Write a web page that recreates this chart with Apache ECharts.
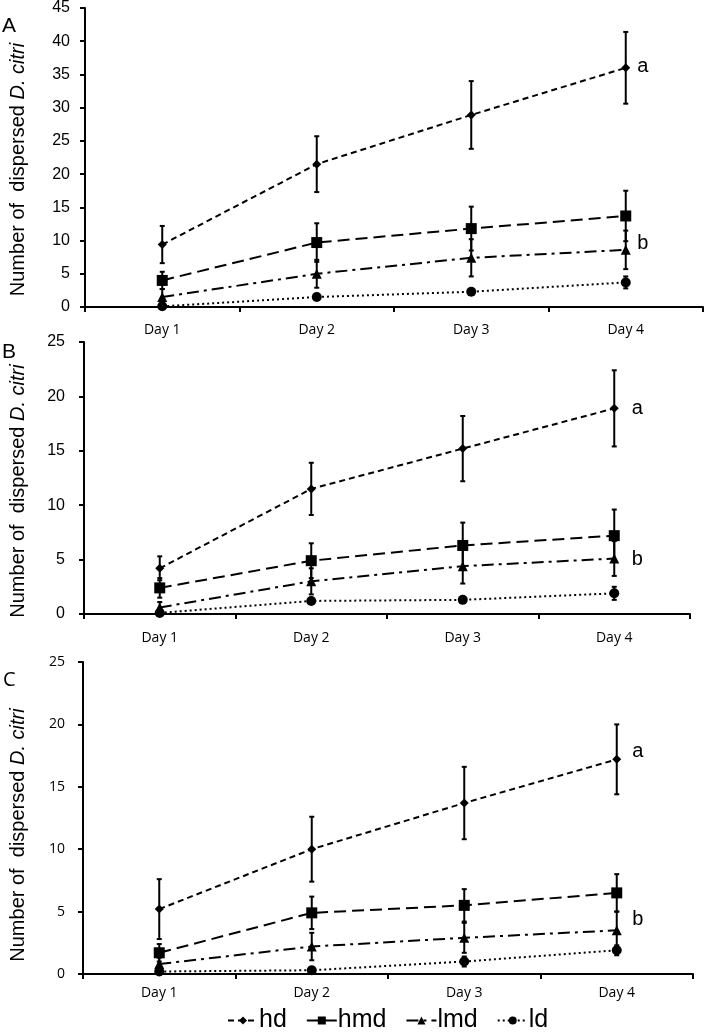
<!DOCTYPE html>
<html>
<head>
<meta charset="utf-8">
<script src="https://cdn.jsdelivr.net/npm/echarts@6/dist/echarts.min.js"></script>
<style>html,body{margin:0;padding:0;background:#fff}#c{width:704px;height:1036px}</style>
</head>
<body>
<div id="c"></div>
<script>
const days = ['Day 1', 'Day 2', 'Day 3', 'Day 4'];
const seriesNames = ['hd', 'hmd', 'lmd', 'ld'];
const yTicksA = [0, 45, 5];
const yTicksBC = [0, 25, 5];

// Panel A
const A_hd = [9.4, 21.5, 28.9, 36.0];
const A_hd_err = [2.8, 4.2, 5.1, 5.4];
const A_hmd = [4.0, 9.7, 11.8, 13.7];
const A_hmd_err = [1.3, 2.9, 3.3, 3.8];
const A_lmd = [1.5, 5.0, 7.4, 8.6];
const A_lmd_err = [1.2, 2.1, 2.8, 2.9];
const A_ld = [0.1, 1.5, 2.3, 3.7];
const A_ld_err = [0.1, 0.2, 0.3, 0.9];
const A_letters = [['a', 36.2], ['b', 9.5]];

// Panel B
const B_hd = [4.2, 11.5, 15.2, 18.9];
const B_hd_err = [1.1, 2.4, 3.0, 3.5];
const B_hmd = [2.4, 4.9, 6.3, 7.2];
const B_hmd_err = [0.9, 1.6, 2.1, 2.4];
const B_lmd = [0.6, 3.0, 4.4, 5.1];
const B_lmd_err = [0.5, 1.2, 1.6, 1.6];
const B_ld = [0.1, 1.2, 1.3, 1.9];
const B_ld_err = [0.1, 0.2, 0.2, 0.6];
const B_letters = [['a', 18.9], ['b', 5.0]];

// Panel C
const C_hd = [5.2, 10.0, 13.7, 17.2];
const C_hd_err = [2.4, 2.6, 2.9, 2.8];
const C_hmd = [1.7, 4.9, 5.5, 6.5];
const C_hmd_err = [0.7, 1.3, 1.3, 1.5];
const C_lmd = [0.8, 2.2, 2.9, 3.5];
const C_lmd_err = [0.5, 1.1, 1.2, 1.5];
const C_ld = [0.2, 0.3, 1.0, 1.9];
const C_ld_err = [0.1, 0.2, 0.4, 0.4];
const C_letters = [['a', 17.85], ['b', 4.4]];

const panels = [
  {label: 'A', data: [A_hd, A_hmd, A_lmd, A_ld], err: [A_hd_err, A_hmd_err, A_lmd_err, A_ld_err], letters: A_letters, ticks: yTicksA,
   grid: {left: 83, top: 6, width: 620, height: 301}, yFont: 16, yFam: 'Liberation Sans', yMargin: 15, xMargin: 16, nameGap: 57, nameShift: 24, letterOff: 17,
   lab: {x: 2, y: 16, size: 21, fam: 'Liberation Sans'}},
  {label: 'B', data: [B_hd, B_hmd, B_lmd, B_ld], err: [B_hd_err, B_hmd_err, B_lmd_err, B_ld_err], letters: B_letters, ticks: yTicksBC,
   grid: {left: 82, top: 342, width: 608, height: 272}, yFont: 16, yFam: 'Liberation Sans', yMargin: 19, xMargin: 17, nameGap: 56, nameShift: 26, letterOff: 23,
   lab: {x: 2, y: 342, size: 21, fam: 'Liberation Sans'}},
  {label: 'C', data: [C_hd, C_hmd, C_lmd, C_ld], err: [C_hd_err, C_hmd_err, C_lmd_err, C_ld_err], letters: C_letters, ticks: yTicksBC,
   grid: {left: 79, top: 662, width: 614, height: 312}, yFont: 14, yFam: 'Open Sans', yMargin: 18, xMargin: 12, nameGap: 55, nameShift: 34, letterOff: 21,
   lab: {x: 3, y: 670, size: 20, fam: 'Open Sans'}}
];

const styles = {
  hd:  {type: [6, 4], symbol: 'diamond', size: 9},
  hmd: {type: [12, 6], symbol: 'rect', size: 11},
  lmd: {type: [12, 5, 3, 5], symbol: 'triangle', size: 10},
  ld:  {type: [2, 3], symbol: 'circle', size: 10}
};

const grids = [], xAxes = [], yAxes = [], series = [], graphics = [];

panels.forEach((p, pi) => {
  grids.push(Object.assign({containLabel: false}, p.grid));
  xAxes.push({
    type: 'category', gridIndex: pi, data: days, boundaryGap: true,
    axisLine: {lineStyle: {color: '#000', width: 2}},
    axisTick: {show: true, alignWithLabel: false, length: 5, lineStyle: {color: '#000', width: 2}},
    axisLabel: {color: '#000', fontSize: 14, fontFamily: 'Open Sans', margin: p.xMargin},
    splitLine: {show: false}
  });
  yAxes.push({
    type: 'value', gridIndex: pi, min: p.ticks[0], max: p.ticks[1], interval: p.ticks[2],
    axisLine: {show: true, lineStyle: {color: '#000', width: 2}},
    axisTick: {show: true, length: 5, lineStyle: {color: '#000', width: 2}},
    axisLabel: {color: '#000', fontSize: p.yFont, fontFamily: p.yFam, margin: p.yMargin},
    splitLine: {show: false},
    name: 'Number of  dispersed {i|D. citri}', nameLocation: 'middle', nameGap: p.nameGap,
    nameTextStyle: {color: '#000', fontSize: 20, fontFamily: 'Liberation Sans', padding: [0, p.nameShift, 0, 0],
      rich: {i: {fontStyle: 'italic', fontSize: 20, fontFamily: 'Liberation Sans', color: '#000'}}}
  });
  seriesNames.forEach((nm, si) => {
    const st = styles[nm];
    series.push({
      name: nm, type: 'line', xAxisIndex: pi, yAxisIndex: pi, data: p.data[si],
      symbol: st.symbol, symbolSize: st.size, z: 3,
      lineStyle: {color: '#000', width: 2, type: st.type},
      itemStyle: {color: '#000'}, animation: false
    });
    const errData = p.data[si].map((v, i) => [i, v - p.err[si][i], v + p.err[si][i]]);
    series.push({
      name: nm, type: 'custom', xAxisIndex: pi, yAxisIndex: pi, data: errData, z: 2,
      renderItem: function (params, api) {
        const lo = api.coord([api.value(0), api.value(1)]);
        const hi = api.coord([api.value(0), api.value(2)]);
        const hw = 2.5;
        const s = {stroke: '#000', lineWidth: 2};
        return {type: 'group', children: [
          {type: 'line', shape: {x1: lo[0], y1: lo[1], x2: hi[0], y2: hi[1]}, style: s},
          {type: 'line', shape: {x1: lo[0] - hw, y1: lo[1], x2: lo[0] + hw, y2: lo[1]}, style: s},
          {type: 'line', shape: {x1: hi[0] - hw, y1: hi[1], x2: hi[0] + hw, y2: hi[1]}, style: s}
        ]};
      },
      animation: false
    });
  });
  series.push({
    type: 'scatter', xAxisIndex: pi, yAxisIndex: pi, symbol: 'circle', symbolSize: 0.5,
    itemStyle: {color: '#000'},
    data: p.letters.map(l => ({value: [3, l[1]], name: l[0]})),
    label: {show: true, position: 'inside', offset: [p.letterOff, 0], formatter: '{b}',
      color: '#000', opacity: 1, fontSize: 20, fontFamily: 'Liberation Sans', textBorderWidth: 0},
    emphasis: {disabled: true},
    silent: true, animation: false, z: 5
  });
  graphics.push({type: 'text', left: p.lab.x, top: p.lab.y,
    style: {text: p.label, fontSize: p.lab.size, fontFamily: p.lab.fam, fill: '#000'}});
});

const chart = echarts.init(document.getElementById('c'), null, {renderer: 'canvas'});
chart.setOption({
  backgroundColor: '#fff',
  animation: false,
  grid: grids, xAxis: xAxes, yAxis: yAxes, series: series, graphic: graphics,
  legend: {
    data: seriesNames, left: 222, bottom: -2, itemWidth: 30, itemHeight: 10, itemGap: 19,
    textStyle: {color: '#000', fontSize: 25, fontFamily: 'Liberation Sans', padding: [0, 0, 0, -4]}
  }
});
</script>
</body>
</html>
